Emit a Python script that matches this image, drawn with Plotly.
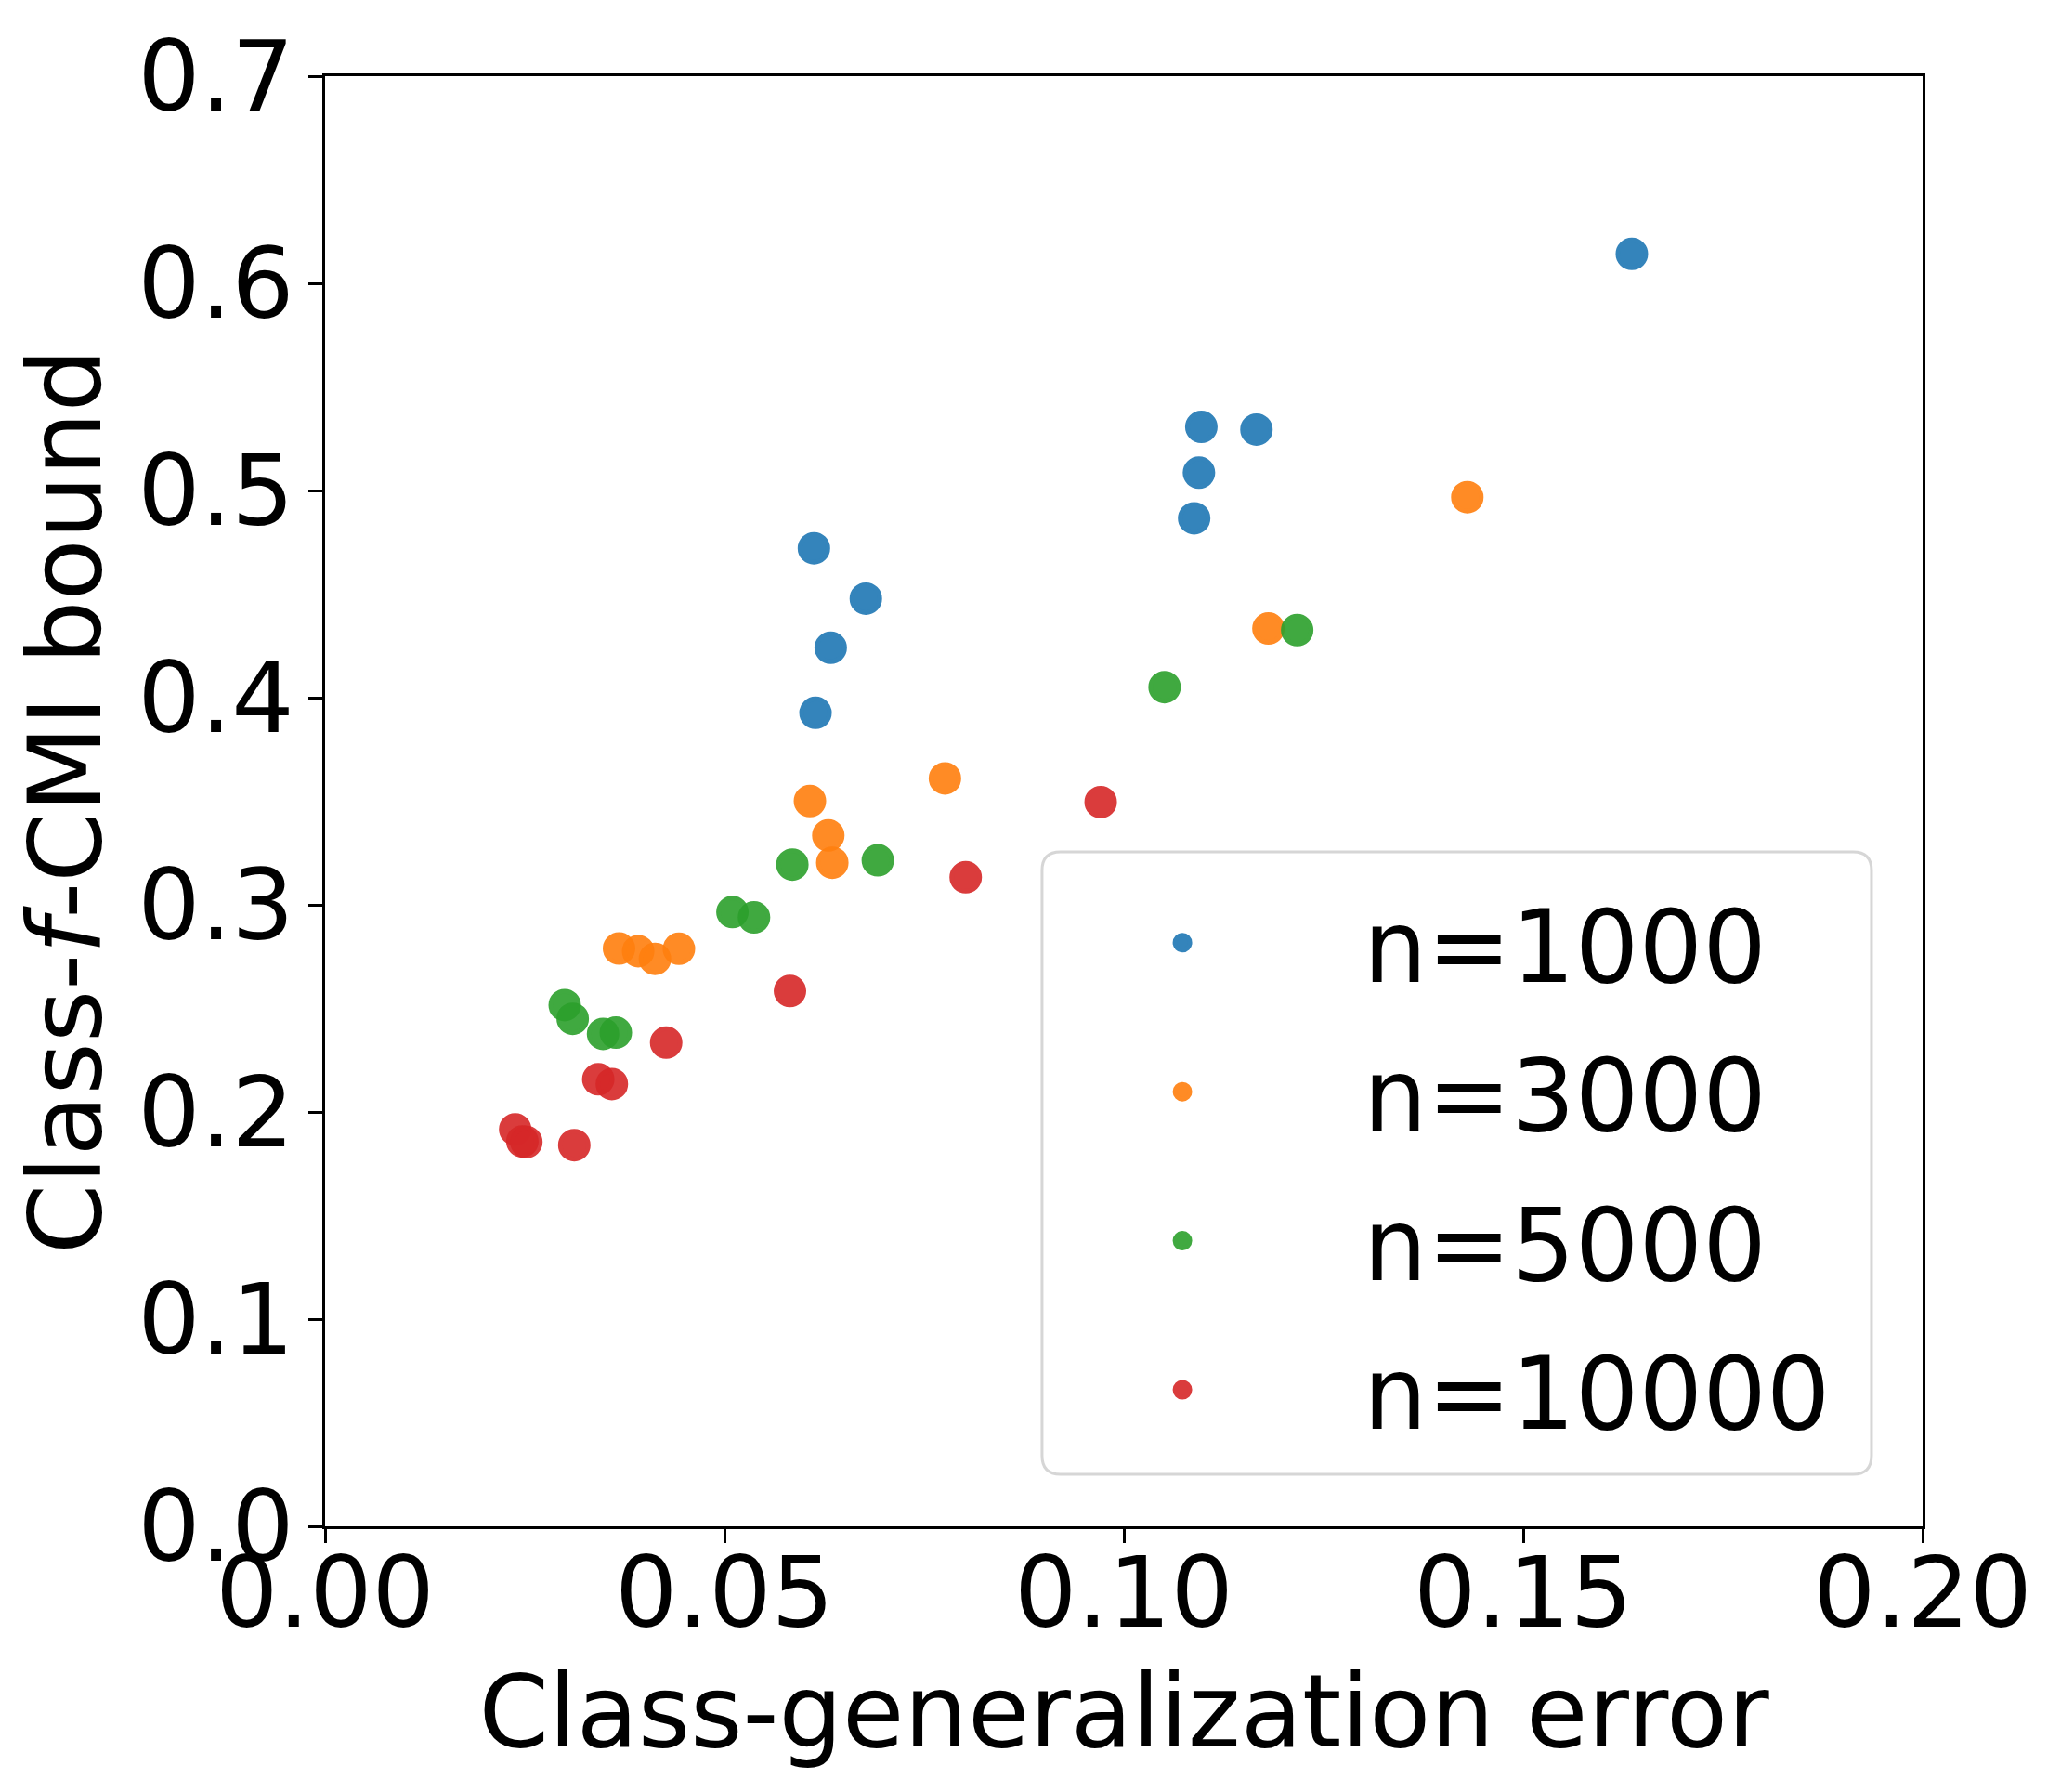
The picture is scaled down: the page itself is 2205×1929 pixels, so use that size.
import plotly.graph_objects as go

# class-generalization error (x) vs class-f-CMI bound (y), one series per n
labels = ["n=1000", "n=3000", "n=5000", "n=10000"]
colors = ["#1f77b4", "#ff7f0e", "#2ca02c", "#d62728"]

x_1000 = [0.1636, 0.1097, 0.1166, 0.1094, 0.1088, 0.0612, 0.0677, 0.0633, 0.0614]
y_1000 = [0.6142, 0.5307, 0.5294, 0.5086, 0.4866, 0.4721, 0.4478, 0.4241, 0.3927]

x_3000 = [0.1430, 0.1181, 0.0776, 0.0607, 0.0630, 0.0635, 0.0368, 0.0392, 0.0413, 0.0443]
y_3000 = [0.4968, 0.4334, 0.3610, 0.3501, 0.3335, 0.3203, 0.2789, 0.2776, 0.2739, 0.2788]

x_5000 = [0.1217, 0.1051, 0.0692, 0.0585, 0.0510, 0.0537, 0.0300, 0.0310, 0.0348, 0.0364]
y_5000 = [0.4326, 0.4051, 0.3215, 0.3194, 0.2965, 0.2939, 0.2516, 0.2450, 0.2377, 0.2383]

x_10000 = [0.0971, 0.0802, 0.0582, 0.0427, 0.0342, 0.0359, 0.0238, 0.0247, 0.0252, 0.0312]
y_10000 = [0.3496, 0.3133, 0.2584, 0.2335, 0.2158, 0.2135, 0.1916, 0.1858, 0.1855, 0.1840]

xs = [x_1000, x_3000, x_5000, x_10000]
ys = [y_1000, y_3000, y_5000, y_10000]

FONT = "DejaVu Sans"

fig = go.Figure()
for lab, col, x, y in zip(labels, colors, xs, ys):
    # outline in the same colour so the legend symbol comes out bigger
    fig.add_trace(go.Scatter(x=x, y=y, mode="markers", name=lab, legendgroup=lab,
                             marker=dict(color=col, size=30, opacity=0.9,
                                         line=dict(width=5, color=col))))

axis_common = dict(showline=True, linecolor="black", linewidth=3, mirror=True,
                   ticks="outside", ticklen=15, tickwidth=3, tickcolor="black",
                   showgrid=False, zeroline=False,
                   tickfont=dict(family=FONT, size=106, color="black"))

fig.update_xaxes(range=[0, 0.2], tickvals=[0, 0.05, 0.1, 0.15, 0.2], tickformat=".2f",
                 ticklabelstandoff=-37,
                 title=dict(text="Class-generalization error", standoff=30,
                            font=dict(family=FONT, size=108, color="black")),
                 **axis_common)
fig.update_yaxes(range=[0, 0.7], tickvals=[0, 0.1, 0.2, 0.3, 0.4, 0.5, 0.6, 0.7], tickformat=".1f",
                 ticklabelstandoff=-6,
                 title=dict(text="Class-<i>f</i>-CMI bound", standoff=25,
                            font=dict(family=FONT, size=108, color="black")),
                 **axis_common)

# legend frame with rounded corners (paper coords of the plot area)
x0, x1, y0, y1 = 0.4488, 0.968, 0.0359, 0.4651
rx, ry = 0.0116, 0.0128
frame = (f"M {x0+rx},{y1} L {x1-rx},{y1} Q {x1},{y1} {x1},{y1-ry} "
         f"L {x1},{y0+ry} Q {x1},{y0} {x1-rx},{y0} L {x0+rx},{y0} Q {x0},{y0} {x0},{y0+ry} "
         f"L {x0},{y1-ry} Q {x0},{y1} {x0+rx},{y1} Z")
fig.add_shape(type="path", path=frame, xref="paper", yref="paper",
              line=dict(color="#d6d6d6", width=3), fillcolor="rgba(255,255,255,0.8)", layer="above")

fig.update_layout(
    width=2197, height=1921,
    margin=dict(l=342, r=135, t=74, b=286),
    plot_bgcolor="white", paper_bgcolor="white",
    font=dict(family=FONT, color="black"),
    legend=dict(x=0.4233, y=0.4516, xanchor="left", yanchor="top",
                font=dict(family=FONT, size=108, color="black"),
                bgcolor="rgba(0,0,0,0)", borderwidth=0,
                itemwidth=380, tracegroupgap=17, traceorder="grouped"),
)

fig.write_html("out.html")
